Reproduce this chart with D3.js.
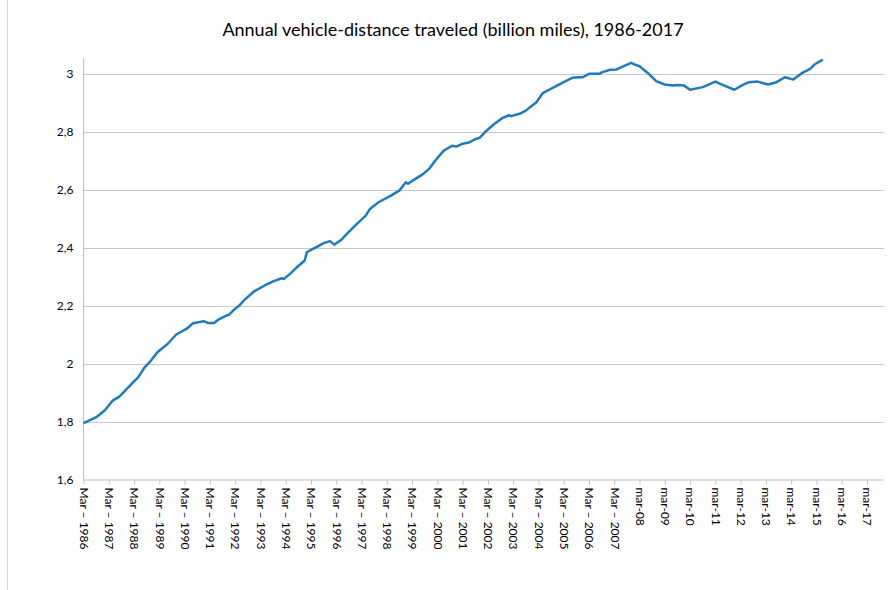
<!DOCTYPE html>
<html>
<head>
<meta charset="utf-8">
<script src="https://cdn.jsdelivr.net/npm/d3@7"></script>
<style>
  body { margin: 0; background: #fff; }
  text { font-family: Lato, "Open Sans", sans-serif; fill: #000; }
</style>
</head>
<body>
<script>
// readings, month -> billion miles
const months = [
  "1986-03","1986-09","1987-01","1987-05","1987-08","1988-01","1988-05","1988-08",
  "1988-11","1989-02","1989-07","1989-11","1990-04","1990-07","1990-12","1991-02",
  "1991-05","1991-07","1991-11","1991-12","1992-03","1992-05","1992-07","1992-12",
  "1993-05","1993-09","1994-01","1994-02","1994-05","1994-08","1994-12","1995-01",
  "1995-06","1995-09","1995-12","1996-02","1996-05","1996-08","1996-12","1997-05",
  "1997-07","1997-11","1998-05","1998-09","1998-12","1999-01","1999-04","1999-08",
  "1999-11","2000-02","2000-06","2000-10","2000-12","2001-03","2001-06","2001-09",
  "2001-11","2002-02","2002-06","2002-10","2003-01","2003-02","2003-06","2003-09",
  "2003-11","2004-02","2004-05","2004-10","2005-02","2005-07","2005-10","2005-12",
  "2006-03","2006-08","2006-09","2007-01","2007-04","2007-07","2007-11","2008-01",
  "2008-03","2008-07","2008-11","2009-03","2009-07","2009-09","2009-12","2010-03",
  "2010-09","2011-03","2011-07","2011-12","2012-04","2012-07","2012-11","2013-04",
  "2013-08","2013-12","2014-04","2014-08","2014-12","2015-02","2015-06"
];
const miles = [
  1.794,1.815,1.838,1.873,1.886,1.924,1.953,1.987,
  2.010,2.039,2.068,2.100,2.120,2.139,2.146,2.140,
  2.140,2.151,2.166,2.168,2.189,2.200,2.217,2.249,
  2.269,2.283,2.294,2.291,2.309,2.330,2.355,2.384,
  2.403,2.415,2.422,2.410,2.424,2.447,2.476,2.510,
  2.533,2.556,2.579,2.597,2.625,2.620,2.634,2.652,
  2.671,2.700,2.734,2.751,2.748,2.758,2.762,2.774,
  2.778,2.801,2.826,2.847,2.856,2.853,2.861,2.872,
  2.884,2.901,2.932,2.951,2.967,2.985,2.987,2.987,
  2.999,2.999,3.004,3.013,3.014,3.024,3.037,3.030,
  3.025,3.001,2.973,2.962,2.959,2.960,2.959,2.944,
  2.953,2.972,2.959,2.944,2.961,2.970,2.972,2.962,
  2.970,2.987,2.979,3.001,3.016,3.031,3.048
];

const tickMonths = d3.range(1986, 2018).map(y => y + "-03");
const tickLabels = tickMonths.map(m => {
  const y = +m.slice(0, 4);
  return y < 2008 ? "Mar \u2013 " + y : "mar-" + String(y).slice(2);
});
const yTicks = [1.6, 1.8, 2, 2.2, 2.4, 2.6, 2.8, 3];

const width = 890, height = 590;
const parse = d3.timeParse("%Y-%m");

const svg = d3.select("body").append("svg")
    .attr("width", width)
    .attr("height", height);

// chart border remnant on the left
svg.append("line")
    .attr("x1", 7.5).attr("x2", 7.5)
    .attr("y1", 0).attr("y2", height)
    .attr("stroke", "#d9d9d9");

const x = d3.scaleTime()
    .domain([parse("1986-03"), parse("2017-03")])
    .range([83.5, 867]);

const y = d3.scaleLinear()
    .domain([1.6, 3])
    .range([479.5, 73.5]);

const plotRight = 884, plotTop = 58;

svg.append("text")
    .attr("x", 453)
    .attr("y", 36)
    .attr("text-anchor", "middle")
    .style("font-size", "18px")
    .text("Annual vehicle-distance traveled (billion miles), 1986-2017");

// horizontal gridlines
svg.append("g")
    .selectAll("line")
    .data(yTicks.slice(1))
    .join("line")
    .attr("x1", 83.5).attr("x2", plotRight)
    .attr("y1", d => Math.round(y(d)) + 0.5)
    .attr("y2", d => Math.round(y(d)) + 0.5)
    .attr("stroke", "#c8c8c8");

// y axis
const yAxis = svg.append("g")
    .attr("transform", "translate(83.5,0)")
    .call(d3.axisLeft(y).tickValues(yTicks).tickSize(0).tickPadding(10)
      .tickFormat(d => String(d).replace(".", ",")));
yAxis.select(".domain").remove();
yAxis.selectAll("text").style("font-size", "12px").style("font-family", "Lato, sans-serif");
svg.append("line")
    .attr("x1", 83.5).attr("x2", 83.5)
    .attr("y1", plotTop).attr("y2", y(1.6))
    .attr("stroke", "#bfbfbf");

// x axis
const xAxis = svg.append("g")
    .attr("transform", `translate(0,${y(1.6)})`)
    .call(d3.axisBottom(x)
      .tickValues(tickMonths.map(parse))
      .tickSize(5)
      .tickFormat((d, i) => tickLabels[i]));
xAxis.select(".domain")
    .attr("d", `M83.5,0.5H${plotRight}`)
    .attr("stroke", "#bfbfbf");
xAxis.selectAll(".tick line").attr("stroke", "#bfbfbf");
xAxis.selectAll("text")
    .style("font-size", "12px")
    .style("font-family", "Lato, sans-serif")
    .attr("text-anchor", "start")
    .attr("dy", "0.35em")
    .attr("y", 0)
    .attr("transform", "translate(0,8) rotate(90)");

// the series
const points = months.map((m, i) => [parse(m), miles[i]]);
svg.append("path")
    .datum(points)
    .attr("fill", "none")
    .attr("stroke", "#1f7bbf")
    .attr("stroke-width", 2.5)
    .attr("stroke-linejoin", "round")
    .attr("d", d3.line().x(d => x(d[0])).y(d => y(d[1])));
</script>
</body>
</html>
